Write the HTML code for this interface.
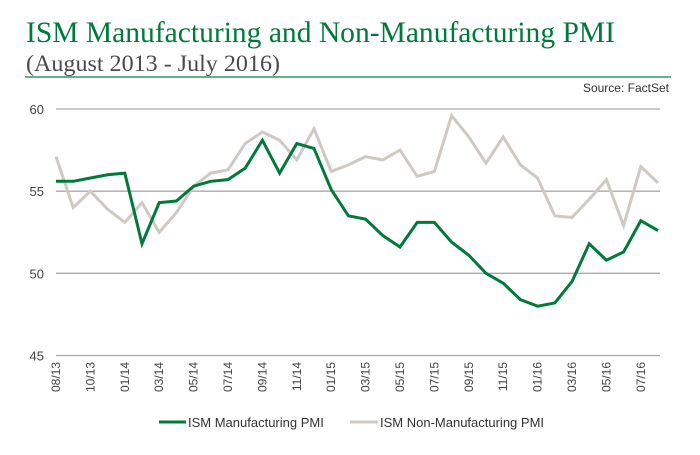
<!DOCTYPE html>
<html><head><meta charset="utf-8"><style>
body{margin:0;background:#fff;width:700px;height:450px;overflow:hidden;font-family:"Liberation Sans",sans-serif}
</style></head><body>
<svg width="700" height="450">
<text x="26" y="42" font-family="Liberation Serif,serif" font-size="30" fill="#007a3a" textLength="589" lengthAdjust="spacingAndGlyphs">ISM Manufacturing and Non-Manufacturing PMI</text>
<text x="26" y="71" font-family="Liberation Serif,serif" font-size="23" fill="#4a4a4a" textLength="254" lengthAdjust="spacingAndGlyphs">(August 2013 - July 2016)</text>
<line x1="25" y1="77" x2="671" y2="77" stroke="#2f9a55" stroke-width="1.5"/>
<text x="669" y="92" text-anchor="end" font-size="12" fill="#333">Source: FactSet</text>
<g id="grid"></g><g id="xl"></g><g id="series"></g>
<line x1="159" y1="422" x2="186" y2="422" stroke="#007a3a" stroke-width="3"/>
<text x="188" y="427" font-size="13" fill="#333">ISM Manufacturing  PMI</text>
<line x1="350" y1="422" x2="378" y2="422" stroke="#cfc9c4" stroke-width="3"/>
<text x="380" y="427" font-size="13" fill="#333">ISM Non-Manufacturing  PMI</text>
</svg>
<script>
const yTicks=[45,50,55,60];
const xLabels=["08/13","10/13","01/14","03/14","05/14","07/14","09/14","11/14","01/15","03/15","05/15","07/15","09/15","11/15","01/16","03/16","05/16","07/16"];
const manufacturing=[55.6,55.6,55.8,56.0,56.1,51.8,54.3,54.4,55.3,55.6,55.7,56.4,58.1,56.1,57.9,57.6,55.1,53.5,53.3,52.3,51.6,53.1,53.1,51.9,51.1,50.0,49.4,48.4,48.0,48.2,49.5,51.8,50.8,51.3,53.2,52.6];
const nonManufacturing=[57.1,54.0,55.0,53.9,53.1,54.3,52.5,53.7,55.3,56.1,56.3,57.9,58.6,58.1,56.9,58.8,56.2,56.6,57.1,56.9,57.5,55.9,56.2,59.6,58.3,56.7,58.3,56.6,55.8,53.5,53.4,54.5,55.7,52.9,56.5,55.5];
const NS="http://www.w3.org/2000/svg";
const x=i=>56+i*(602/35);
const y=v=>355.5-(v-45)*(246.5/15);
function mk(t,a,p){const e=document.createElementNS(NS,t);for(const k in a)e.setAttribute(k,a[k]);p.appendChild(e);return e;}
const g=document.getElementById('grid');
yTicks.forEach(v=>{
 const l=mk('line',{x1:56,x2:660,y1:y(v),y2:y(v),stroke:'#aaa','stroke-width':1.3},g);
 
 
 const t=mk('text',{x:44,y:y(v)+5,'text-anchor':'end','font-size':13,fill:'#444'},g);
 t.textContent=v;
 
 
});
const xl=document.getElementById('xl');
xLabels.forEach((s,k)=>{
 const cx=x(k*2)+4, ty=362;
 const t=mk('text',{x:cx,y:ty,transform:`rotate(-90 ${cx} ${ty})`,'text-anchor':'end','font-size':12,fill:'#444'},xl);
 t.textContent=s;
 
 
});
const sg=document.getElementById('series');
function line(d,c,n){
 const p=mk('polyline',{points:d.map((v,i)=>x(i)+','+y(v)).join(' '),fill:'none',stroke:c,'stroke-width':3,'stroke-linejoin':'miter'},sg);
 
 
}
line(nonManufacturing,'#cfc9c4','nonmanufacturing-line');
line(manufacturing,'#007a3a','manufacturing-line');
</script>
</body></html>
